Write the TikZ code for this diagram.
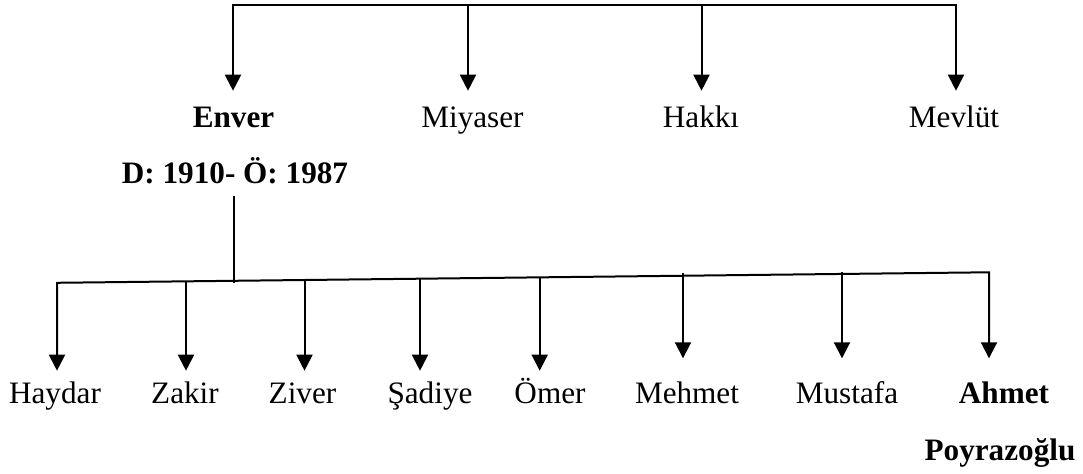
\documentclass[tikz,border=0pt]{standalone}
\usepackage{fontspec}
\setmainfont{Liberation Serif}
\usetikzlibrary{arrows.meta}
\begin{document}
\begin{tikzpicture}[x=0.5pt,y=-0.5pt, line width=1pt,
  lbl/.style={anchor=base, inner sep=0pt, font=\fontsize{15.6}{18}\selectfont},
  blbl/.style={anchor=base, inner sep=0pt, font=\fontsize{15.6}{18}\selectfont\bfseries},
  tip/.style={-{Triangle[width=8pt,length=8pt]}},
  tips/.style={{Triangle[width=8pt,length=8pt]}-{Triangle[width=8pt,length=8pt]}}]
\useasboundingbox (0,0) rectangle (1083,474);

% top row labels
\node[blbl] (enver) at (233.5,128) {Enver};
\node[lbl] (miyaser) at (472.5,128) {Miyaser};
\node[lbl] (hakki) at (701,128) {Hakkı};
\node[lbl] (mevlut) at (954,128) {Mevlüt};
\node[blbl] (dates) at (235,184) {D: 1910- Ö: 1987};

% bottom row labels
\node[lbl] (haydar) at (55,404) {Haydar};
\node[lbl] (zakir) at (185,404) {Zakir};
\node[lbl] (ziver) at (302.5,404) {Ziver};
\node[lbl] (sadiye) at (430,404) {Şadiye};
\node[lbl] (omer) at (550,404) {Ömer};
\node[lbl] (mehmet) at (687,404) {Mehmet};
\node[lbl] (mustafa) at (847,404) {Mustafa};
\node[blbl] (ahmet) at (1004,404) {Ahmet};
\node[blbl] (poyraz) at (1000,461) {Poyrazoğlu};

% top bracket coordinates
\coordinate (t1) at (233,5);
\coordinate (t2) at (468,5);
\coordinate (t3) at (701.5,5);
\coordinate (t4) at (956,5);
\coordinate (e1) at (233,90.7);
\coordinate (e2) at (468,90.7);
\coordinate (e3) at (701.5,90.7);
\coordinate (e4) at (956,90.7);

\draw[tips] (e1) -- (t1) -- (t4) -- (e4);
\draw[tip] (t2) -- (e2);
\draw[tip] (t3) -- (e3);

% stem from Enver
\coordinate (s1) at (233.5,196);
\coordinate (s2) at (233.5,283);
\draw (s1) -- (s2);

% bottom bracket coordinates
\coordinate (b1) at (57,282.8);
\coordinate (b2) at (186,281.3);
\coordinate (b3) at (304.5,279.9);
\coordinate (b4) at (420,278.7);
\coordinate (b5) at (539.7,277.3);
\coordinate (b6) at (683,272.8);
\coordinate (b7) at (842,272.2);
\coordinate (b8) at (989,272.3);
\coordinate (f1) at (57,370.7);
\coordinate (f2) at (186,370.7);
\coordinate (f3) at (304.5,370.7);
\coordinate (f4) at (420,370.7);
\coordinate (f5) at (539.7,370.7);
\coordinate (f6) at (683,358.3);
\coordinate (f7) at (842,358.3);
\coordinate (f8) at (989,358.3);

\draw[tips] (f1) -- (b1) -- (b8) -- (f8);
\draw[tip] (b2) -- (f2);
\draw[tip] (b3) -- (f3);
\draw[tip] (b4) -- (f4);
\draw[tip] (b5) -- (f5);
\draw[tip] (b6) -- (f6);
\draw[tip] (b7) -- (f7);
\end{tikzpicture}
\end{document}
